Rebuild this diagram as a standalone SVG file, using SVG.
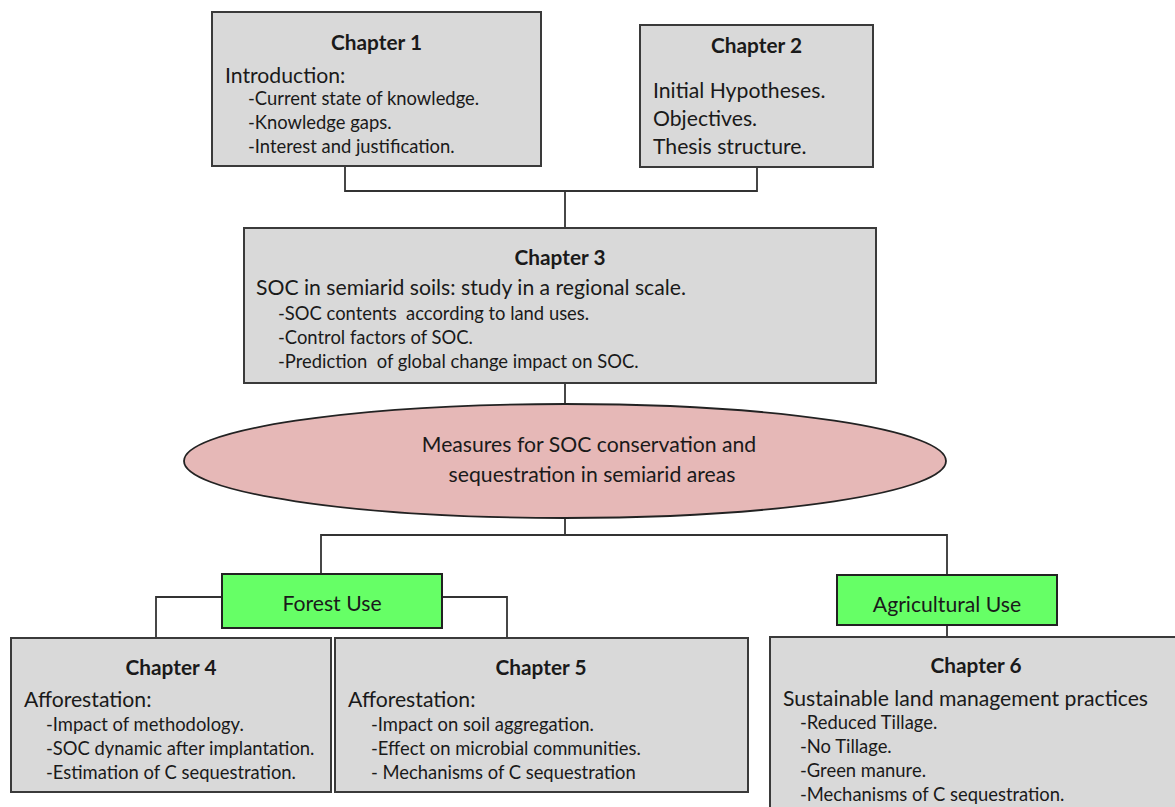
<svg xmlns="http://www.w3.org/2000/svg" width="1175" height="807" viewBox="0 0 1175 807">
<style>
.box{fill:#d9d9d9;stroke:#3a3a3a;stroke-width:2}
.grn{fill:#66ff66;stroke:#222;stroke-width:2}
.ell{fill:#e6b8b7;stroke:#222;stroke-width:1.8}
.ln{fill:none;stroke:#333;stroke-width:1.8}
text{font-family:Lato,"Open Sans","Liberation Sans",sans-serif;fill:#1a1a1a;white-space:pre}
.t{font-weight:bold;font-size:20.8px;text-anchor:middle}
.h{font-size:21.2px}
.s{font-size:18.4px}
.c{font-size:21.2px;text-anchor:middle}
</style>
<rect width="1175" height="807" fill="#fff"/>
<g id="connectors">
<path class="ln" d="M345,166 V191 H757 V167"/>
<path class="ln" d="M565,191 V228"/>
<path class="ln" d="M565,383 V404"/>
<path class="ln" d="M565,518 V535"/>
<path class="ln" d="M321,574 V535 H947 V575"/>
<path class="ln" d="M222,597 H156 V638"/>
<path class="ln" d="M442,597 H507 V638"/>
<path class="ln" d="M947,625 V637"/>
</g>
<g id="ch1">
<rect class="box" x="212" y="12" width="329" height="154"/>
<text class="t" x="376.5" y="50">Chapter 1</text>
<text class="h" x="225" y="83">Introduction:</text>
<text class="s" x="248" y="105">-Current state of knowledge.</text>
<text class="s" x="248" y="129">-Knowledge gaps.</text>
<text class="s" x="248" y="153">-Interest and justification.</text>
</g>
<g id="ch2">
<rect class="box" x="640" y="25" width="233" height="142"/>
<text class="t" x="756.5" y="53">Chapter 2</text>
<text class="h" x="653" y="98">Initial Hypotheses.</text>
<text class="h" x="653" y="126">Objectives.</text>
<text class="h" x="653" y="154">Thesis structure.</text>
</g>
<g id="ch3">
<rect class="box" x="244" y="228" width="632" height="155"/>
<text class="t" x="560" y="265">Chapter 3</text>
<text class="h" x="256" y="295">SOC in semiarid soils: study in a regional scale.</text>
<text class="s" x="278" y="320">-SOC contents  according to land uses.</text>
<text class="s" x="278" y="344">-Control factors of SOC.</text>
<text class="s" x="278" y="368">-Prediction  of global change impact on SOC.</text>
</g>
<g id="measures">
<ellipse class="ell" cx="565" cy="461" rx="381" ry="57"/>
<text class="c" x="589" y="452">Measures for SOC conservation and</text>
<text class="c" x="592" y="482">sequestration in semiarid areas</text>
</g>
<g id="forest">
<rect class="grn" x="222" y="574" width="220" height="54"/>
<text class="c" x="332" y="611">Forest Use</text>
</g>
<g id="agri">
<rect class="grn" x="837" y="575" width="220" height="50"/>
<text class="c" x="947" y="612">Agricultural Use</text>
</g>
<g id="ch4">
<rect class="box" x="11" y="638" width="320" height="154"/>
<text class="t" x="171" y="675">Chapter 4</text>
<text class="h" x="24" y="707">Afforestation:</text>
<text class="s" x="46" y="731">-Impact of methodology.</text>
<text class="s" x="46" y="755">-SOC dynamic after implantation.</text>
<text class="s" x="46" y="779">-Estimation of C sequestration.</text>
</g>
<g id="ch5">
<rect class="box" x="335" y="638" width="413" height="154"/>
<text class="t" x="541" y="675">Chapter 5</text>
<text class="h" x="348" y="707">Afforestation:</text>
<text class="s" x="371" y="731">-Impact on soil aggregation.</text>
<text class="s" x="371" y="755">-Effect on microbial communities.</text>
<text class="s" x="371" y="779">- Mechanisms of C sequestration</text>
</g>
<g id="ch6">
<rect class="box" x="770" y="637" width="412" height="180"/>
<text class="t" x="976" y="673">Chapter 6</text>
<text class="h" x="783" y="706">Sustainable land management practices</text>
<text class="s" x="800" y="729">-Reduced Tillage.</text>
<text class="s" x="800" y="753">-No Tillage.</text>
<text class="s" x="800" y="777">-Green manure.</text>
<text class="s" x="800" y="801">-Mechanisms of C sequestration.</text>
</g>
</svg>
